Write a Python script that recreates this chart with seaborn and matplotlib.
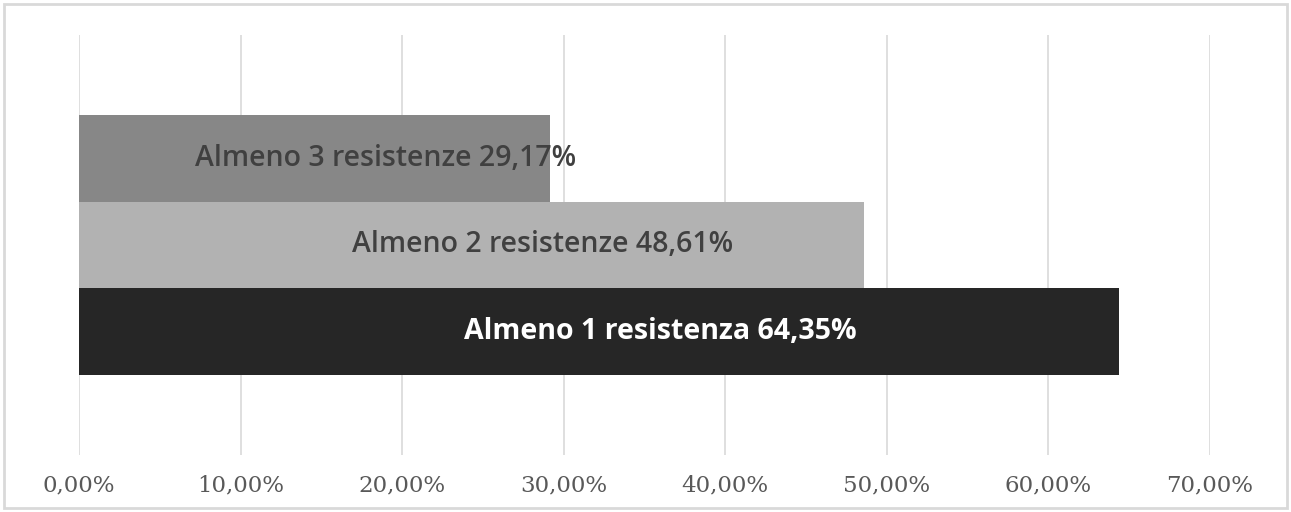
import pandas as pd
import seaborn as sns
import matplotlib.pyplot as plt
from matplotlib.patches import Rectangle
from matplotlib.ticker import FuncFormatter

# data
series = ['Almeno 3 resistenze', 'Almeno 2 resistenze', 'Almeno 1 resistenza']
values = [29.17, 48.61, 64.35]
bar_colors = ['#878787', '#b2b2b2', '#262626']
text_colors = ['#404040', '#404040', '#ffffff']
text_weights = ['semibold', 'semibold', 'bold']
label_x = [19.0, 28.7, 36.0]  # where Excel left each label (centre, in %)
x_ticks = [0, 10, 20, 30, 40, 50, 60, 70]

df = pd.DataFrame({'grp': [''] * 3, 'Serie': series, 'Valore': values})

fig = plt.figure(figsize=(12.91, 5.12), dpi=100)
ax = fig.add_axes([79 / 1291, 57 / 512, (1210 - 79) / 1291, (455 - 35) / 512])

sns.barplot(data=df, x='Valore', y='grp', hue='Serie', hue_order=series,
            palette=bar_colors, width=0.62, dodge=True, legend=False,
            saturation=1, ax=ax, zorder=2)

for i, (s, v) in enumerate(zip(series, values)):
    lab = f'{s} {v:.2f}%'.replace('.', ',')
    ypos = -0.62 / 3 + i * 0.62 / 3
    ax.text(label_x[i], ypos, lab, ha='center', va='center',
            color=text_colors[i], fontsize=20.5, fontweight=text_weights[i],
            family=['Open Sans', 'DejaVu Sans'], zorder=3)

ax.set_xlim(0, 70)
ax.set_ylim(0.5, -0.5)
ax.set_xticks(x_ticks)
ax.xaxis.set_major_formatter(FuncFormatter(lambda v, p: f'{v:.2f}%'.replace('.', ',')))
ax.tick_params(axis='x', length=0, pad=14, labelsize=16.5, labelcolor='#595959')
for t in ax.get_xticklabels():
    t.set_family(['DejaVu Serif'])
ax.set_yticks([])
ax.set_xlabel('')
ax.set_ylabel('')
ax.grid(axis='x', color='#d9d9d9', linewidth=1.2, zorder=0)
ax.set_axisbelow(True)
for sp in ax.spines.values():
    sp.set_visible(False)

fig.patches.append(Rectangle((4 / 1291, 4 / 512), 1283 / 1291, 504 / 512,
                             transform=fig.transFigure, fill=False,
                             edgecolor='#d9d9d9', linewidth=2))

fig.savefig('out.png', dpi=100)
